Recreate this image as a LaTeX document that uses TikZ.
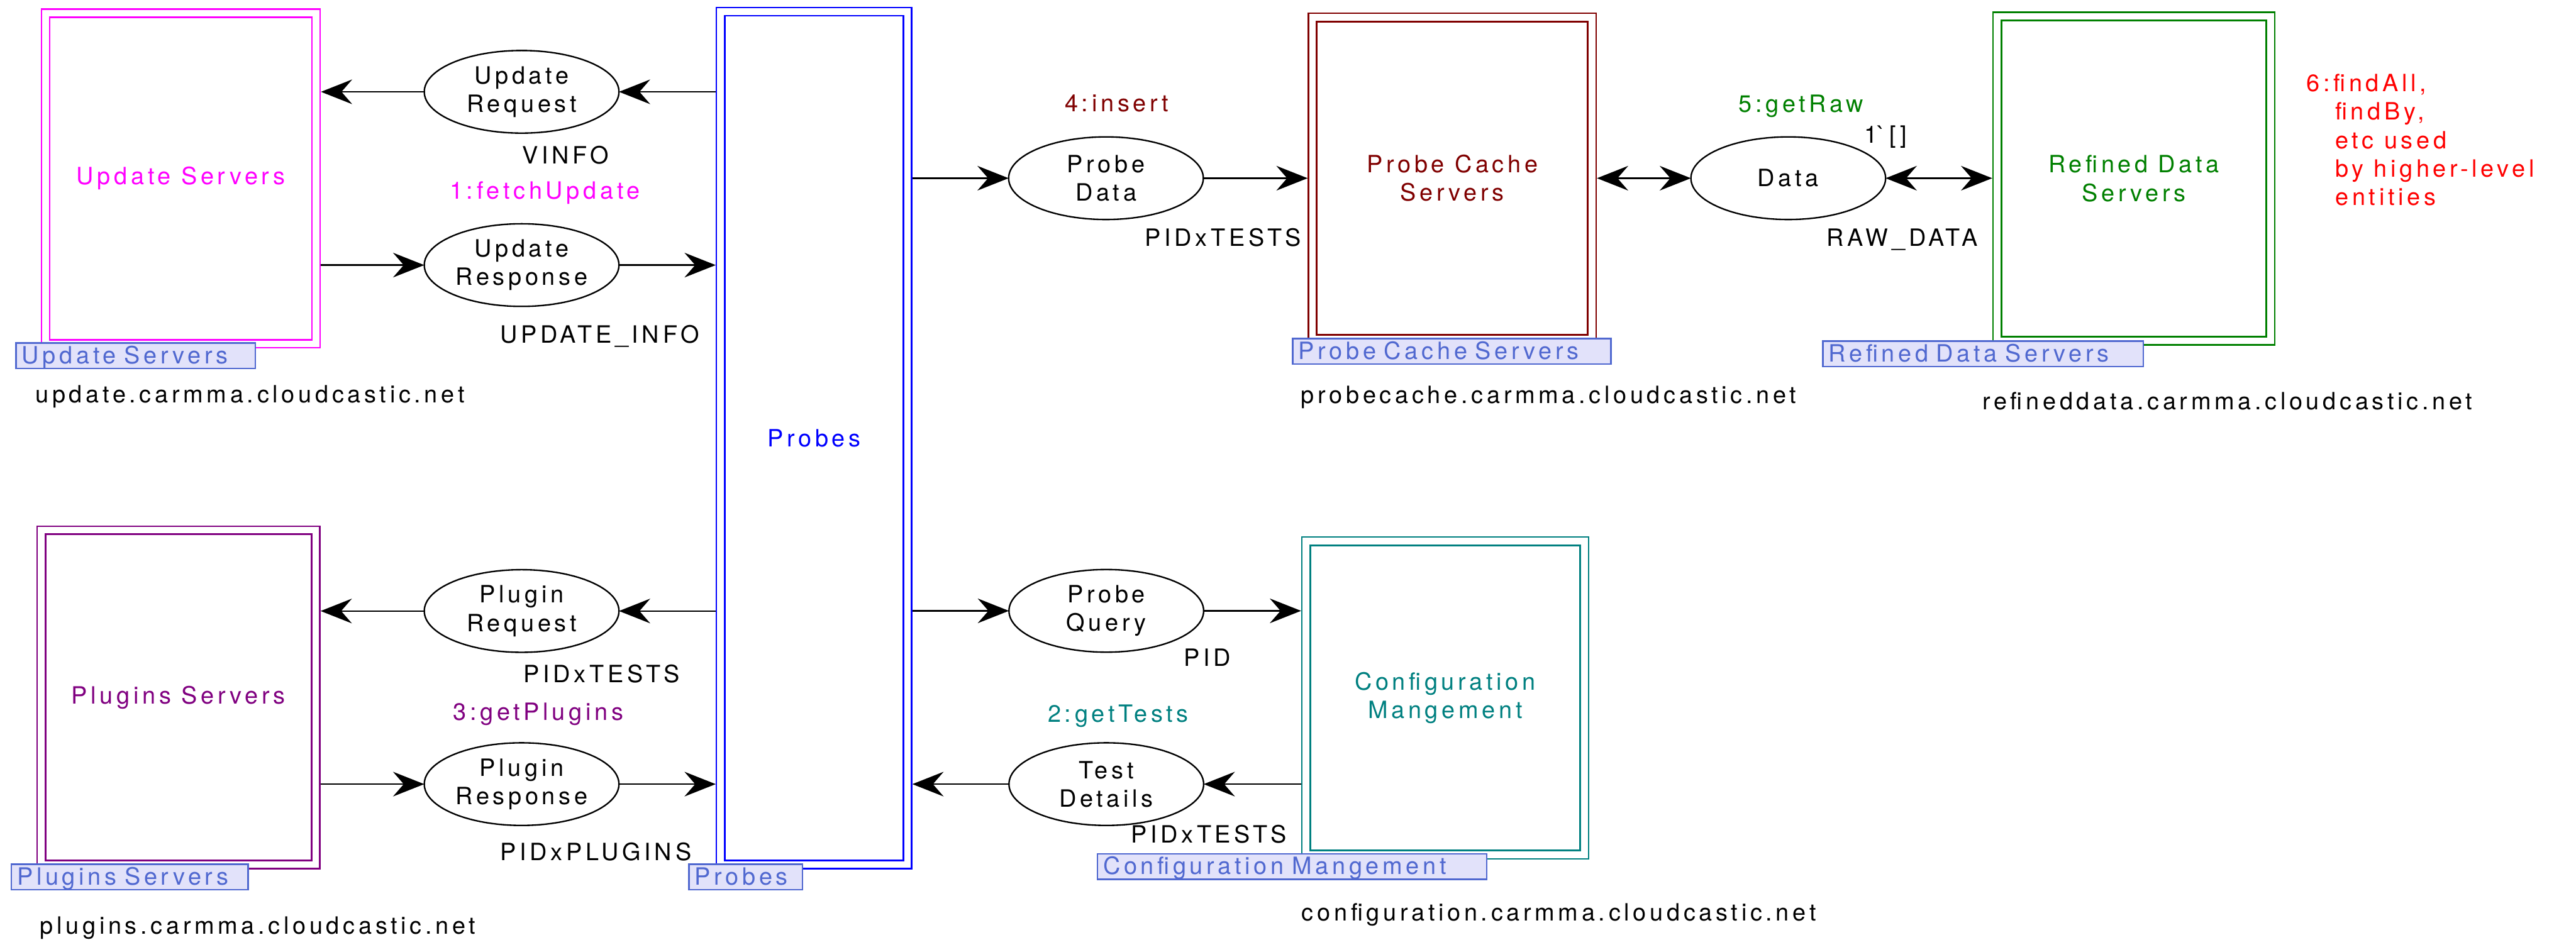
\documentclass[tikz,border=0pt]{standalone}
\usepackage{fontspec}
\setmainfont{TeX Gyre Heros}[LetterSpace=15]
\usetikzlibrary{arrows.meta,shapes.geometric}
\definecolor{tagblue}{RGB}{80,104,208}
\definecolor{tagfill}{RGB}{226,226,250}
\definecolor{mag}{RGB}{255,0,255}
\definecolor{pblue}{RGB}{0,0,255}
\definecolor{pred}{RGB}{255,0,0}
\definecolor{dred}{RGB}{128,0,0}
\definecolor{dgreen}{RGB}{0,128,0}
\definecolor{purp}{RGB}{128,0,128}
\definecolor{tealc}{RGB}{0,128,128}
\begin{document}
\begin{tikzpicture}[x=1pt,y=-1pt,
  every node/.style={font=\fontsize{14.5pt}{17.3pt}\selectfont, inner sep=0pt, outer sep=0pt},
  box/.style={draw=#1, text=#1, line width=0.9pt, outer sep=0.45pt, align=center,
    append after command={
      \pgfextra{\draw[#1, line width=1.1pt]
        ([shift={(5.5pt,-5.5pt)}]\tikzlastnode.north west) rectangle
        ([shift={(-5.5pt,5.5pt)}]\tikzlastnode.south east);}}},
  place/.style={ellipse, draw, line width=0.9pt, minimum width=118.5pt, minimum height=50.3pt, align=center},
  place2/.style={place, execute at begin node={\rule{0pt}{14pt}}},
  tag/.style={draw=tagblue, fill=tagfill, text=tagblue, line width=1pt, anchor=north west, inner xsep=3.5pt, inner ysep=1pt, text height=11.5pt, text depth=2pt, align=left},
  lbl/.style={anchor=base west},
  arr/.style={line width=0.9pt, -{Stealth[length=19pt,width=15pt,inset=6.5pt]}},
  darr/.style={line width=0.9pt, {Stealth[length=19pt,width=15pt,inset=6.5pt]}-{Stealth[length=19pt,width=15pt,inset=6.5pt]}}]
\useasboundingbox (0,0) rectangle (1568,572.3);

% boxes
\node[box=mag, minimum width=169.7pt, minimum height=206.3pt] (upd) at (110.05,108.65) {Update Servers};
\node[box=purp, minimum width=172.1pt, minimum height=208.5pt] (plg) at (108.65,424.55) {Plugins Servers};
\node[box=pblue, minimum width=118.8pt, minimum height=524.3pt] (probes) at (495.5,266.65) {Probes};
\node[box=dred, minimum width=175.2pt, minimum height=201pt] (cache) at (884,108.5) {Probe Cache\\Servers};
\node[box=dgreen, minimum width=171.5pt, minimum height=202.6pt] (refined) at (1298.85,108.7) {Refined Data\\Servers};
\node[box=tealc, minimum width=174.5pt, minimum height=196pt] (config) at (879.65,424.9) {Configuration\\Mangement};

% places
\node[place2] (ureq) at (317.5,55.9) {Update\\Request};
\node[place2] (uresp) at (317.5,161.4) {Update\\Response};
\node[place2] (preq) at (317.5,372) {Plugin\\Request};
\node[place2] (presp) at (317.5,477.4) {Plugin\\Response};
\node[place2] (pdata) at (673.2,108.5) {Probe\\Data};
\node[place] (data) at (1088.5,108.5) {Data};
\node[place2] (pquery) at (673.4,371.9) {Probe\\Query};
\node[place2] (tdet) at (673.4,477.4) {Test\\Details};

% connectors
\draw[arr] (probes.west |- ureq.east) -- (ureq.east);
\draw[arr] (ureq.west) -- (upd.east |- ureq.west);
\draw[arr] (upd.east |- uresp.west) -- (uresp.west);
\draw[arr] (uresp.east) -- (probes.west |- uresp.east);
\draw[arr] (probes.west |- preq.east) -- (preq.east);
\draw[arr] (preq.west) -- (plg.east |- preq.west);
\draw[arr] (plg.east |- presp.west) -- (presp.west);
\draw[arr] (presp.east) -- (probes.west |- presp.east);
\draw[arr] (probes.east |- pdata.west) -- (pdata.west);
\draw[arr] (pdata.east) -- (cache.west |- pdata.east);
\draw[darr] (cache.east |- data.west) -- (data.west);
\draw[darr] (data.east) -- (refined.west |- data.east);
\draw[arr] (probes.east |- pquery.west) -- (pquery.west);
\draw[arr] (pquery.east) -- (config.west |- pquery.east);
\draw[arr] (config.west |- tdet.east) -- (tdet.east);
\draw[arr] (tdet.west) -- (probes.east |- tdet.west);

% tags
\node[tag, text width=138.6pt] (updtag) at (9.8,208.8) {Update Servers};
\node[tag, text width=137.2pt] (plgtag) at (6.9,526.2) {Plugins Servers};
\node[tag, text width=62.1pt] (probestag) at (419.3,526.2) {Probes};
\node[tag, text width=186.7pt] (cachetag) at (786.9,206.2) {Probe Cache Servers};
\node[tag, text width=188pt] (refinedtag) at (1109.6,207.7) {Refined Data Servers};
\node[tag, text width=230pt] (configtag) at (668,519.8) {Configuration Mangement};

% labels
\node[lbl] (l1) at (318,99.8) {VINFO};
\node[lbl, text=mag] (l2) at (273.8,121.2) {1:fetchUpdate};
\node[lbl] (l3) at (304.5,208.8) {UPDATE\_INFO};
\node[lbl] (l4) at (21.6,245.2) {update.carmma.cloudcastic.net};
\node[lbl] (l5) at (318.8,415.6) {PIDxTESTS};
\node[lbl, text=purp] (l6) at (275.8,438.4) {3:getPlugins};
\node[lbl] (l7) at (304.5,523.7) {PIDxPLUGINS};
\node[lbl] (l8) at (24.4,568.5) {plugins.carmma.cloudcastic.net};
\node[lbl, text=dred] (l9) at (648.2,68) {4:insert};
\node[lbl] (l10) at (697,149.8) {PIDxTESTS};
\node[lbl] (l11) at (792,245.6) {probecache.carmma.cloudcastic.net};
\node[lbl, text=dgreen] (l12) at (1058.3,68.4) {5:getRaw};
\node[lbl] (l13) at (1135,87) {1\textasciigrave\,[]};
\node[lbl] (l14) at (1112,149.7) {RAW\_DATA};
\node[lbl] (l15) at (1206.7,249.3) {refineddata.carmma.cloudcastic.net};
\node[anchor=north west, align=left, text=pred] (l16) at (1404,45.2) {6:findAll,\\\hspace*{17.5pt}findBy,\\\hspace*{17.5pt}etc used\\\hspace*{17.5pt}by higher-level\\\hspace*{17.5pt}entities};
\node[lbl] (l17) at (720.6,405.4) {PID};
\node[lbl, text=tealc] (l18) at (637.8,439.6) {2:getTests};
\node[lbl] (l19) at (688.4,513.2) {PIDxTESTS};
\node[lbl] (l20) at (792.4,560.8) {configuration.carmma.cloudcastic.net};
\end{tikzpicture}
\end{document}
